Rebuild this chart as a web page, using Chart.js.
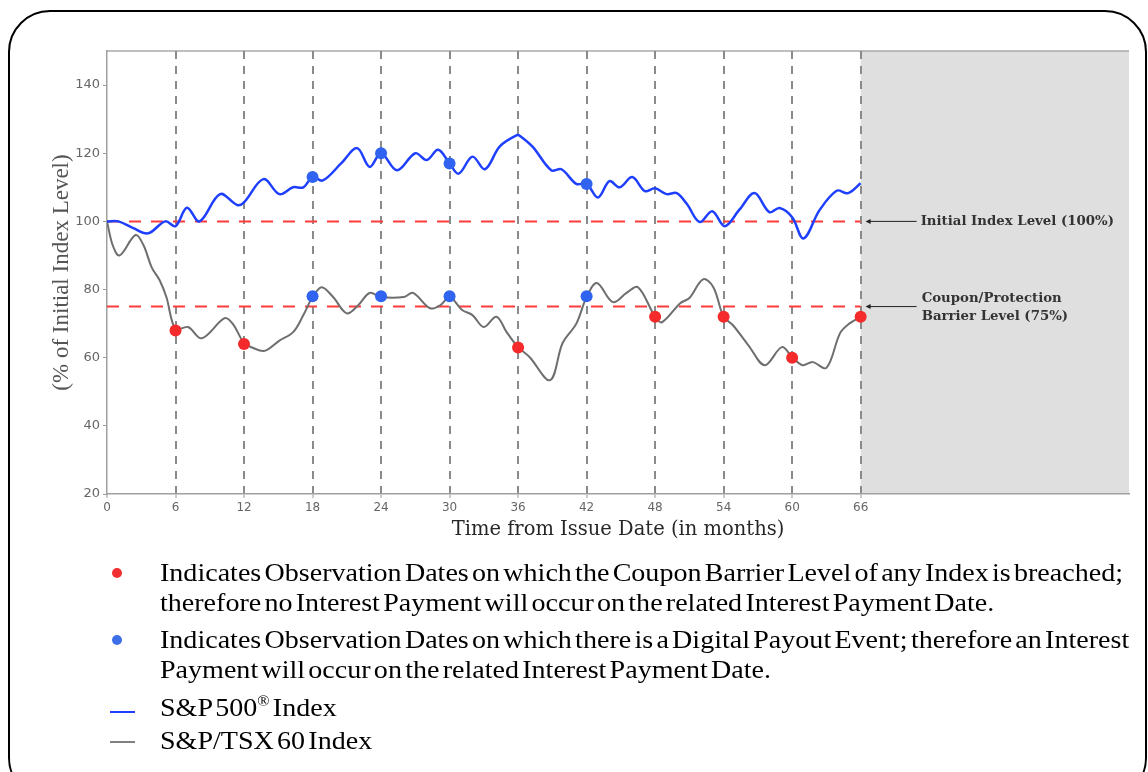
<!DOCTYPE html>
<html>
<head>
<meta charset="utf-8">
<script src="https://cdn.jsdelivr.net/npm/chart.js@4.4.0/dist/chart.umd.min.js"></script>
<style>
  body { margin: 0; background: #fff; }
  #pagina { position: relative; width: 1148px; height: 772px; overflow: hidden; }
  #moldura { position: absolute; left: 8px; top: 10px; width: 1139px; height: 790px; border: 2px solid #000; border-radius: 42px; box-sizing: border-box; }
  #grafico { position: absolute; left: 0; top: 0; }
  .legenda { position: absolute; left: 160px; font-family: "Liberation Serif", "Times New Roman", serif; font-size: 26px; line-height: 30px; color: #000; word-spacing: -3.5px; white-space: nowrap; transform-origin: 0 50%; }
  .legenda sup { font-size: 15px; vertical-align: 10px; line-height: 0; }
  .bola { position: absolute; left: 112px; width: 10px; height: 10px; border-radius: 50%; }
  .traco { position: absolute; left: 110px; width: 25px; height: 2px; }
</style>
</head>
<body>
<div id="pagina">
  <canvas id="grafico" width="1148" height="772"></canvas>
  <div id="moldura"></div>

  <div class="bola" style="top:568px; background:#f03030;"></div>
  <div class="legenda" id="linha1" style="top:558px;">Indicates Observation Dates on which the Coupon Barrier Level of any Index is breached;</div>
  <div class="legenda" style="top:588px;">therefore no Interest Payment will occur on the related Interest Payment Date.</div>

  <div class="bola" style="top:635px; background:#3f6fe8;"></div>
  <div class="legenda" style="top:625px;">Indicates Observation Dates on which there is a Digital Payout Event; therefore an Interest</div>
  <div class="legenda" style="top:655px;">Payment will occur on the related Interest Payment Date.</div>

  <div class="traco" style="top:711px; background:#1f3fff;"></div>
  <div class="legenda" style="top:693px;">S&amp;P 500<sup>®</sup> Index</div>

  <div class="traco" style="top:741px; background:#808080;"></div>
  <div class="legenda" style="top:726px;">S&amp;P/TSX 60 Index</div>
</div>

<script>
// S&P 500 (linha azul) - meses e nivel em % do nivel inicial
var spMonths = [0, 1, 2.3, 3.6, 5.1, 6, 7, 8.1, 9.9, 11.4, 12, 13.7, 15.1, 16.3, 17.2, 18, 18.9, 20.5, 21.9, 23, 24, 25.4, 27, 28, 29, 30, 30.8, 32, 33.1, 34.4, 35.9, 36.2, 37.3, 38.9, 39.8, 41.1, 42, 43, 44, 44.9, 46, 47.1, 48, 49, 49.9, 50.8, 51.9, 53, 54.1, 55.4, 56.7, 58, 58.9, 60, 61, 62.4, 63.9, 64.9, 66];
var spValues = [100, 100, 98, 96.5, 100, 98.6, 104, 100, 108, 104.8, 105.6, 112.4, 108, 110, 110, 113, 112, 117, 121.5, 116, 120, 115, 120, 118, 121, 117, 114, 119, 115.3, 122, 125.3, 125, 121.8, 115, 115.3, 111, 111, 107, 111.8, 110, 113, 108.9, 109.7, 108, 108.3, 105, 99.8, 103, 98.6, 103.5, 108.3, 102.7, 103.9, 101.2, 95, 103.3, 109, 108.3, 111.2];

// S&P/TSX 60 (linha cinza)
var tsxMonths = [0, 0.5, 1.1, 2.5, 3.2, 3.9, 4.6, 5.2, 6, 7.1, 8.3, 10.3, 11, 12, 12.7, 13.8, 15.1, 16.3, 17.2, 18, 18.8, 19.8, 21, 22, 23, 24, 26, 26.8, 28.3, 29.2, 30, 31.1, 32, 33, 34.1, 35, 36, 37, 38.8, 39.9, 41.1, 42, 42.9, 44.3, 45.5, 46.5, 48, 48.6, 50.2, 51, 52.2, 53.1, 54, 54.8, 56.2, 57.6, 59.1, 60, 60.9, 61.8, 63, 64.2, 65, 66];
var tsxValues = [100, 93, 90, 96, 93, 86.6, 82.8, 77.8, 68.4, 69, 65.7, 71.6, 70, 64.3, 63, 62, 65, 67.5, 72.5, 77.8, 80.7, 77.8, 73, 75.4, 79, 77.8, 77.8, 79, 74.5, 75.4, 77.8, 74, 72.5, 69, 72, 67.5, 63.1, 60.2, 53.4, 64.3, 70, 77.8, 81.9, 76.3, 79, 80.7, 72, 70.4, 76, 77.5, 83, 80.7, 72, 69.6, 63.5, 57.8, 63.1, 60.2, 57.8, 58.7, 57, 67.2, 70, 72];

// datas de observacao
var redMonths = [6, 12, 36, 48, 54, 60, 66];
var redValues = [68, 64, 63, 72, 72, 60, 72];
var blueMonths = [18, 24, 30, 42];
var blueSpValues = [113, 120, 117, 111];
var blueTsxValues = [78, 78, 78, 78];

// niveis de referencia
var levelMonths = [0, 66];
var initialLevel = 100;
var barrierLevel = 75;
var lastObservation = 66;

var xTicks = [0, 6, 12, 18, 24, 30, 36, 42, 48, 54, 60, 66];
var yTicks = [20, 40, 60, 80, 100, 120, 140];

function pontos(xs, ys) {
  return xs.map(function (x, i) { return { x: x, y: ys[i] }; });
}

// mesma escala horizontal para toda a legenda (primeira linha vai ate ~1123px)
var escala = 963 / linha1.getBoundingClientRect().width;
document.querySelectorAll('.legenda').forEach(function (el) {
  el.style.transform = 'scaleX(' + escala + ')';
});

// area cinza depois da ultima observacao + linha de cima do grafico
var fundo = {
  id: 'fundo',
  beforeDraw: function (chart) {
    var ctx = chart.ctx, a = chart.chartArea, x = chart.scales.x;
    var x66 = x.getPixelForValue(lastObservation);
    ctx.save();
    ctx.fillStyle = '#dfdfdf';
    ctx.fillRect(x66, a.top, a.right - x66, a.bottom - a.top);
    ctx.strokeStyle = '#a8a8a8';
    ctx.lineWidth = 1.5;
    ctx.beginPath();
    ctx.moveTo(a.left, a.top);
    ctx.lineTo(a.right, a.top);
    ctx.stroke();
    ctx.restore();
  }
};

// setas e textos na area cinza
var anotacoes = {
  id: 'anotacoes',
  afterDraw: function (chart) {
    var ctx = chart.ctx, x = chart.scales.x, y = chart.scales.y;
    var x0 = x.getPixelForValue(lastObservation);
    function seta(yy) {
      ctx.beginPath();
      ctx.moveTo(x0 + 6, yy);
      ctx.lineTo(x0 + 56, yy);
      ctx.stroke();
      ctx.beginPath();
      ctx.moveTo(x0 + 5, yy);
      ctx.lineTo(x0 + 10, yy - 2.5);
      ctx.lineTo(x0 + 10, yy + 2.5);
      ctx.closePath();
      ctx.fill();
    }
    ctx.save();
    ctx.strokeStyle = '#222';
    ctx.fillStyle = '#222';
    ctx.lineWidth = 1;
    var y100 = y.getPixelForValue(initialLevel);
    var y75 = y.getPixelForValue(barrierLevel);
    seta(y100);
    seta(y75);
    ctx.fillStyle = '#333';
    ctx.font = 'bold 13.3px "DejaVu Serif"';
    ctx.textBaseline = 'middle';
    ctx.fillText('Initial Index Level (100%)', x0 + 60, y100);
    ctx.fillText('Coupon/Protection', x0 + 61, y75 - 8);
    ctx.fillText('Barrier Level (75%)', x0 + 61, y75 + 10);
    ctx.restore();
  }
};

new Chart(document.getElementById('grafico'), {
  type: 'line',
  data: {
    datasets: [
      { label: 'S&P 500 Index', data: pontos(spMonths, spValues), borderColor: '#1f3fff', borderWidth: 2.5, pointRadius: 0, tension: 0.35, order: 1 },
      { label: 'S&P/TSX 60 Index', data: pontos(tsxMonths, tsxValues), borderColor: '#6e6e6e', borderWidth: 2, pointRadius: 0, tension: 0.35, order: 1 },
      { label: 'Initial Index Level', data: pontos(levelMonths, [initialLevel, initialLevel]), borderColor: '#ff3a3a', borderWidth: 2, borderDash: [12, 10], pointRadius: 0, order: 2 },
      { label: 'Barrier Level', data: pontos(levelMonths, [barrierLevel, barrierLevel]), borderColor: '#ff3a3a', borderWidth: 2, borderDash: [12, 10], pointRadius: 0, order: 2 },
      { label: 'Breached', data: pontos(redMonths, redValues), showLine: false, pointRadius: 6, pointBackgroundColor: '#f52a2a', pointBorderWidth: 0, order: 0 },
      { label: 'Digital Payout S&P', data: pontos(blueMonths, blueSpValues), showLine: false, pointRadius: 6, pointBackgroundColor: '#2f63f0', pointBorderWidth: 0, order: 0 },
      { label: 'Digital Payout TSX', data: pontos(blueMonths, blueTsxValues), showLine: false, pointRadius: 6, pointBackgroundColor: '#2f63f0', pointBorderWidth: 0, order: 0 }
    ]
  },
  options: {
    responsive: false,
    animation: false,
    layout: { padding: { left: 0, top: 51, right: 19, bottom: 218 } },
    plugins: { legend: { display: false }, tooltip: { enabled: false } },
    scales: {
      x: {
        type: 'linear',
        min: 0,
        max: 89.5,
        afterFit: function (s) { s.height = 60; },
        afterBuildTicks: function (s) { s.ticks = xTicks.map(function (v) { return { value: v }; }); },
        ticks: { font: { family: 'DejaVu Sans', size: 12 }, color: '#666', padding: 3, maxRotation: 0, autoSkip: false },
        grid: {
          color: function (c) { return (c.tick && c.tick.value > 0) ? '#8a8a8a' : 'rgba(0,0,0,0)'; },
          lineWidth: 2,
          tickLength: 4,
          tickWidth: 1,
          tickColor: '#999'
        },
        border: { color: '#a0a0a0', width: 1.5, dash: [8, 7] },
        title: { display: true, text: 'Time from Issue Date (in months)', font: { family: 'DejaVu Serif', size: 19.5 }, color: '#262626', padding: { top: 0, bottom: 12 } }
      },
      y: {
        min: 20,
        max: 150,
        afterFit: function (s) { s.width = 107; },
        afterBuildTicks: function (s) { s.ticks = yTicks.map(function (v) { return { value: v }; }); },
        ticks: { font: { family: 'DejaVu Sans', size: 13 }, color: '#666', padding: 3 },
        grid: { drawOnChartArea: false, tickLength: 4, tickColor: '#999' },
        border: { color: '#a0a0a0', width: 1.5 },
        title: { display: true, text: '(% of Initial Index Level)', font: { family: 'Liberation Serif', size: 23 }, color: '#555', padding: { top: 48, bottom: 0 } }
      }
    }
  },
  plugins: [fundo, anotacoes]
});
</script>
</body>
</html>
